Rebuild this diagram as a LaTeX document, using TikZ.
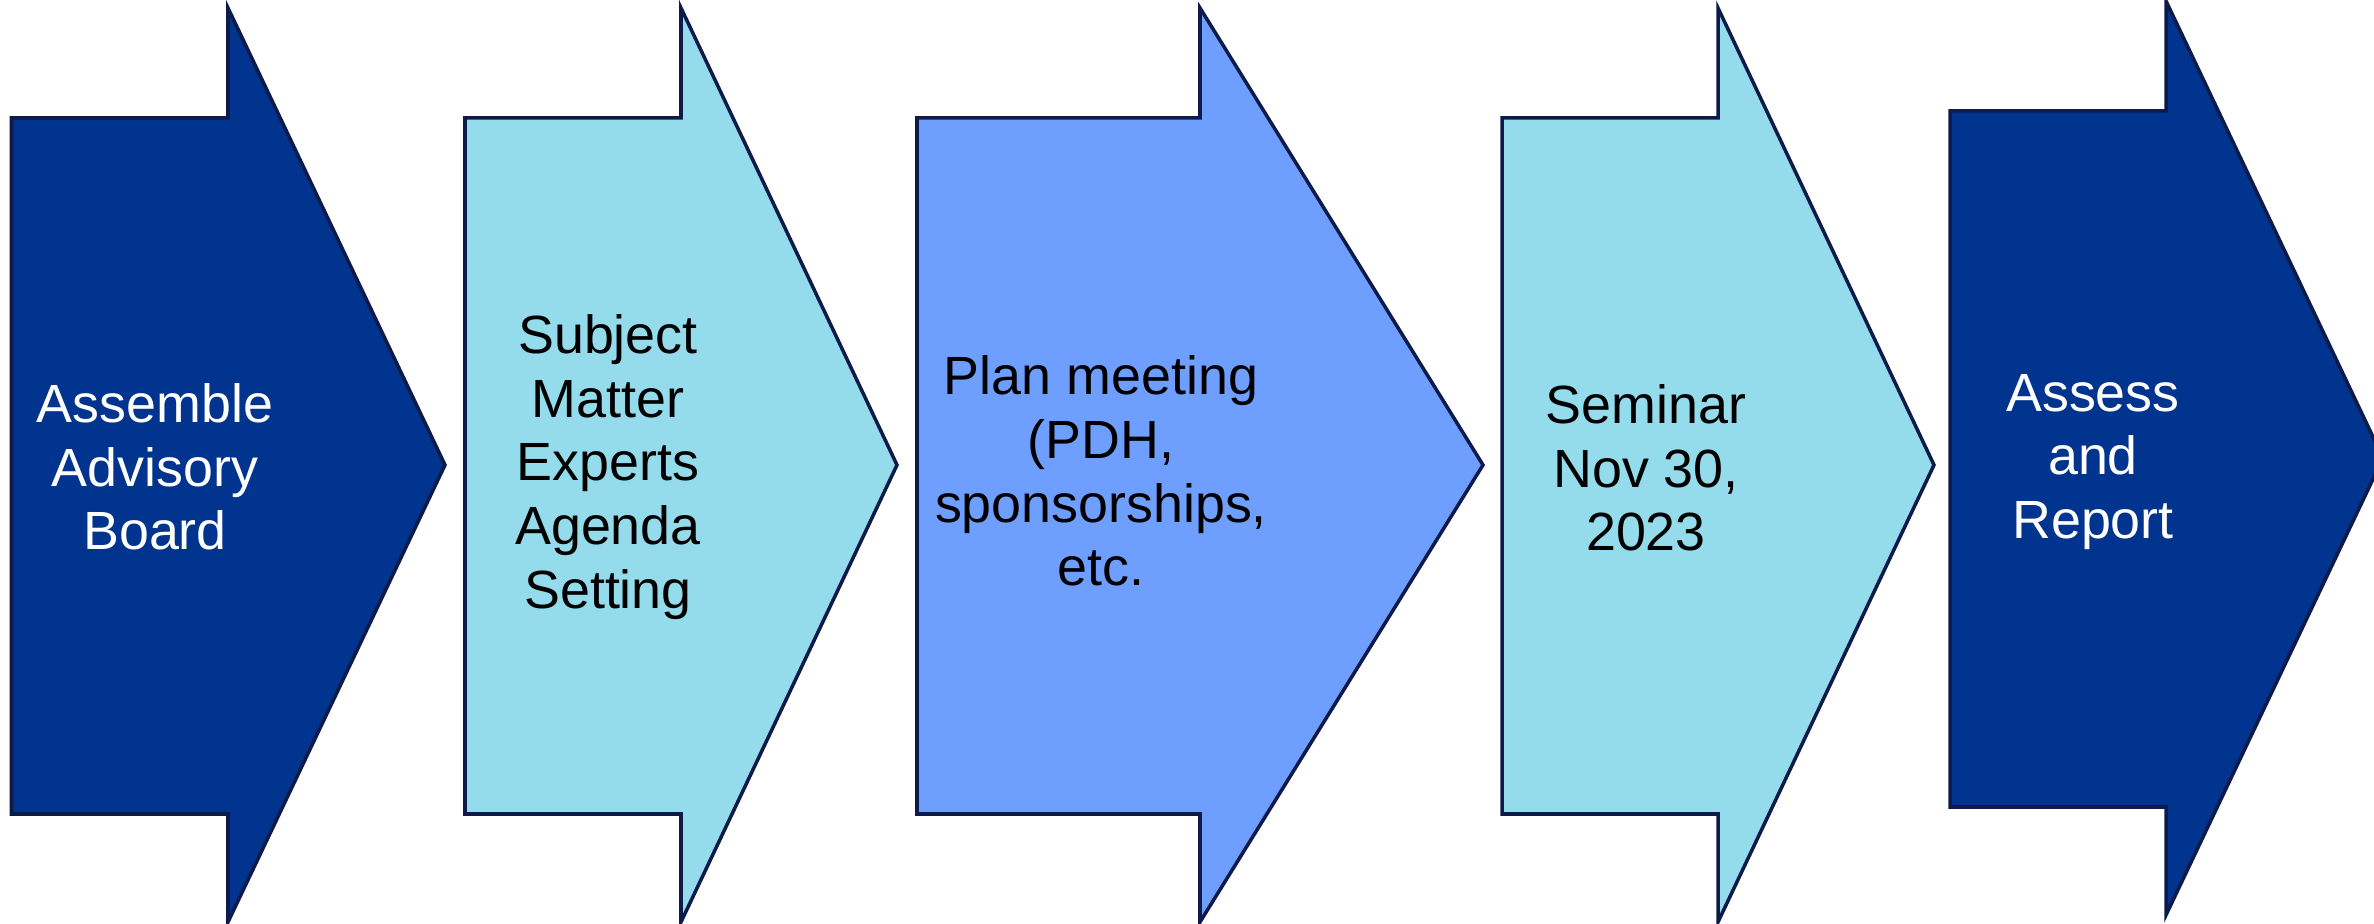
\documentclass[tikz,border=0pt]{standalone}
\usepackage{fontspec}
\setmainfont{Liberation Sans}
\definecolor{navyblue}{RGB}{0,52,143}
\definecolor{skyblue}{RGB}{148,219,236}
\definecolor{cornblue}{RGB}{110,159,255}
\definecolor{edgeblue}{RGB}{14,27,74}
\tikzset{
    steparrow/.style={draw=edgeblue, line width=1pt, line join=miter},
    steptext/.style={align=center, inner sep=0pt, font=\fontsize{15.3}{18.1}\selectfont}
}

\begin{document}
\begin{tikzpicture}[x=0.01cm, y=0.01cm]
        \useasboundingbox (0,0) rectangle (2374,924);

        % left / notch / tip / fill / vertical shift
        \foreach \l/\n/\t/\c/\s in {11.5/228/445/navyblue/0, 465/681/897/skyblue/0,
                917/1200/1483/cornblue/0, 1502/1718/1934/skyblue/0,
                1950/2166/2383/navyblue/7}
        \draw[steparrow, fill=\c] (\l, 110+\s) -- (\l, 806+\s) -- (\n, 806+\s)
            -- (\n, 916+\s) -- (\t, 459+\s) -- (\n, 2+\s) -- (\n, 110+\s) -- cycle;

        \node[steptext, white] (assemble) at (155, 457) {Assemble\\Advisory\\Board};
        \node[steptext] (experts) at (608, 457) {Subject\\Matter\\Experts\\Agenda\\Setting};
        \node[steptext] (plan) at (1101, 453) {Plan meeting\\(PDH,\\sponsorships,\\etc.};
        \node[steptext] (seminar) at (1646, 456) {Seminar\\Nov 30,\\2023};
        \node[steptext, white] (assess) at (2093, 462) {Assess\\and\\Report};

    \end{tikzpicture}
\end{document}
